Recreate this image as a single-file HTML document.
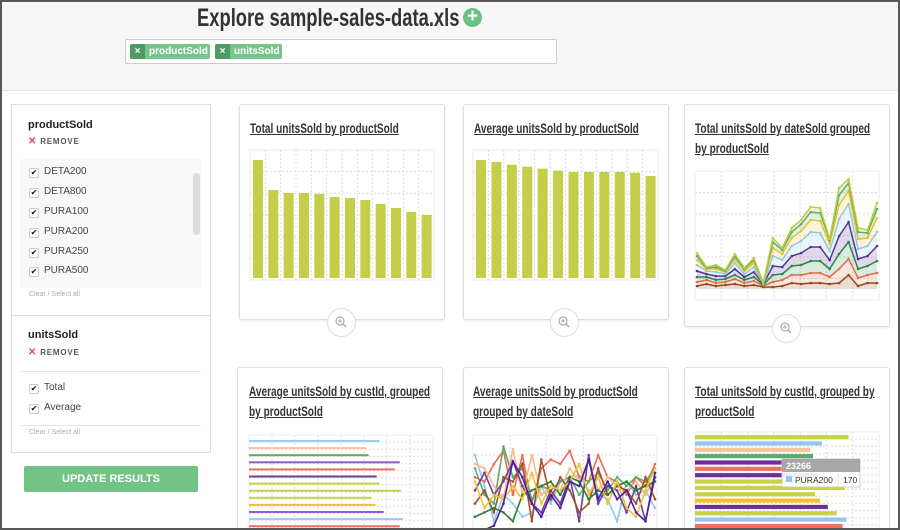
<!DOCTYPE html>
<html style="overflow:hidden;width:900px;height:530px"><head><meta charset="utf-8">
<style>
*{box-sizing:border-box;margin:0;padding:0}
html,body{overflow:hidden}
body{width:900px;height:530px;overflow:hidden;position:relative;background:#fff;font-family:"Liberation Sans",sans-serif;color:#333}
.abs{position:absolute}
#frame{left:0;top:0;width:900px;height:530px;border:2px solid #585858;pointer-events:none;z-index:50}
#header{left:0;top:0;width:900px;height:91px;background:#f7f7f7;border-bottom:1px solid #e3e3e3}
.cond{display:inline-block;transform-origin:left top;white-space:nowrap;font-weight:bold}
.tag{height:15px;border-radius:2px;background:#76c58b;color:#fff;font-size:10px;font-weight:bold;line-height:15px;overflow:hidden}
.tag .x{display:inline-block;width:15px;height:15px;background:#4f9a63;text-align:center;margin-right:4px}
.panel{border:1px solid #ddd;background:#fff}
.item{font-size:10px;color:#444;height:14px;line-height:14px}
.cb{display:inline-block;width:10px;height:10px;border:1px solid #ccc;border-radius:2px;margin-right:5px;vertical-align:-1px;font-size:8px;line-height:8px;text-align:center;color:#111;background:#fff}
.rm{font-size:8px;font-weight:bold;color:#555;letter-spacing:.8px}
.rm b{color:#d9534f;font-size:10px;margin-right:3px}
.card{border:1px solid #ddd;border-radius:3px;background:#fff;box-shadow:0 1px 2px rgba(0,0,0,.08)}
.ttl{font-size:14px;color:#333;text-decoration:underline;line-height:20px;transform:scaleX(.72)}
.zoom{width:29px;height:29px;border-radius:50%;border:1px solid #ddd;background:#fff}
svg text{font-family:"Liberation Sans",sans-serif}
</style></head><body>
<div id="frame" class="abs"></div>
<div id="header" class="abs"></div>
<div class="abs" style="left:197px;top:3px;height:30px"><span class="cond" style="font-size:25px;color:#333;transform:scaleX(.735);line-height:30px">Explore sample-sales-data.xls</span></div>
<div class="abs" style="left:463px;top:8px;width:19px;height:19px;border-radius:50%;background:#6cc084;color:#fff;font-weight:bold;font-size:19px;line-height:18px;text-align:center">+</div>
<div class="abs" style="left:125px;top:39px;width:432px;height:25px;background:#fff;border:1px solid #ccc;border-radius:2px"></div>
<div class="abs tag" style="left:130px;top:44px;width:80px"><span class="x">×</span>productSold</div>
<div class="abs tag" style="left:215px;top:44px;width:67px"><span class="x">×</span>unitsSold</div>

<!-- sidebar -->
<div class="abs panel" style="left:11px;top:104px;width:200px;height:349px"></div>
<div class="abs" style="left:28px;top:119px;font-size:11px;font-weight:bold;color:#222">productSold</div>
<div class="abs rm" style="left:28px;top:136px"><b>✕</b>REMOVE</div>
<div class="abs" style="left:20px;top:159px;width:181px;height:129px;background:#f8f8f8;overflow:hidden">
 <div class="abs" style="left:173px;top:14px;width:7px;height:62px;background:#ddd;border-radius:3px"></div>
</div>
<div class="abs item" style="left:29px;top:165px"><span class="cb">✔</span>DETA200</div>
<div class="abs item" style="left:29px;top:185px"><span class="cb">✔</span>DETA800</div>
<div class="abs item" style="left:29px;top:205px"><span class="cb">✔</span>PURA100</div>
<div class="abs item" style="left:29px;top:225px"><span class="cb">✔</span>PURA200</div>
<div class="abs item" style="left:29px;top:245px"><span class="cb">✔</span>PURA250</div>
<div class="abs item" style="left:29px;top:264px"><span class="cb">✔</span>PURA500</div>
<div class="abs" style="left:29px;top:291px;font-size:7px;color:#aaa">Clear / Select all</div>
<div class="abs" style="left:12px;top:315px;width:198px;height:1px;background:#ddd"></div>
<div class="abs" style="left:28px;top:329px;font-size:11px;font-weight:bold;color:#222">unitsSold</div>
<div class="abs rm" style="left:28px;top:347px"><b>✕</b>REMOVE</div>
<div class="abs" style="left:20px;top:371px;width:181px;height:1px;background:#e5e5e5"></div>
<div class="abs item" style="left:29px;top:381px"><span class="cb">✔</span>Total</div>
<div class="abs item" style="left:29px;top:401px"><span class="cb">✔</span>Average</div>
<div class="abs" style="left:20px;top:425px;width:181px;height:1px;background:#e5e5e5"></div>
<div class="abs" style="left:29px;top:429px;font-size:7px;color:#aaa">Clear / Select all</div>
<div class="abs" style="left:24px;top:466px;width:174px;height:26px;background:#72c386;border-radius:2px;color:#fff;font-size:11px;font-weight:bold;text-align:center;line-height:26px">UPDATE RESULTS</div>

<!-- cards -->
<div class="abs card" style="left:239px;top:104px;width:206px;height:216px"></div>
<div class="abs card" style="left:463px;top:104px;width:206px;height:216px"></div>
<div class="abs card" style="left:684px;top:104px;width:206px;height:223px"></div>
<div class="abs card" style="left:237px;top:367px;width:206px;height:163px;border-bottom:none"></div>
<div class="abs card" style="left:463px;top:367px;width:206px;height:163px;border-bottom:none"></div>
<div class="abs card" style="left:684px;top:367px;width:206px;height:163px;border-bottom:none"></div>

<div class="abs" style="left:250px;top:118px"><span class="cond ttl">Total unitsSold by productSold</span></div>
<div class="abs" style="left:474px;top:118px"><span class="cond ttl">Average unitsSold by productSold</span></div>
<div class="abs" style="left:695px;top:118px"><span class="cond ttl">Total unitsSold by dateSold grouped<br>by productSold</span></div>
<div class="abs" style="left:249px;top:381px"><span class="cond ttl">Average unitsSold by custId, grouped<br>by productSold</span></div>
<div class="abs" style="left:473px;top:381px"><span class="cond ttl">Average unitsSold by productSold<br>grouped by dateSold</span></div>
<div class="abs" style="left:695px;top:381px"><span class="cond ttl">Total unitsSold by custId, grouped by<br>productSold</span></div>

<div class="abs zoom" style="left:327px;top:308px"></div>
<div class="abs zoom" style="left:550px;top:308px"></div>
<div class="abs zoom" style="left:772px;top:314px"></div>

<svg id="svg" class="abs" style="left:0;top:0;z-index:10" width="900" height="530" xmlns="http://www.w3.org/2000/svg"></svg>

<script>
// chart1: total unitsSold by productSold
const products = ["DETA200","DETA800","PURA100","PURA200","PURA250","PURA500","PURA600","PURA700","PURA800","PURA900","PURA1000","PURA1200"];
const totalUnits = [23600,17600,17000,17000,16800,16200,16000,15600,14800,14000,13200,12600];
const avgUnits = [177,174,170,167,164,161,159,159,159,159,158,153];
// chart3: stacked series by date
const dates = ["d1","d2","d3","d4","d5","d6","d7","d8","d9","d10","d11","d12","d13","d14","d15","d16","d17","d18","d19","d20"];
const stackS1 = [3,5,3,4,5,3,4,2,2,3,6,5,6,6,5,6,14,3,6,6];
const stackS2 = [4,4,3,3,5,3,4,1,5,6,8,9,10,10,7,14,16,8,8,10];
const stackS3 = [5,3,3,3,4,3,4,1,7,6,9,10,12,12,8,15,17,9,9,12];
const stackS4 = [6,3,4,3,6,3,5,1,9,7,10,12,14,14,9,18,20,10,10,15];
const stackS5 = [6,3,4,2,6,3,5,0,10,7,10,12,15,14,9,17,18,10,10,14];
const stackS6 = [5,2,3,2,4,3,4,1,8,6,8,10,12,12,7,14,13,10,8,14];
const stackS7 = [4,1,2,1,3,2,3,0,6,4,6,7,8,8,4,10,8,7,5,9];
const stackS8 = [3,1,2,1,2,1,2,0,4,2,4,4,5,5,1,7,4,4,3,6];
// chart4: average by custId
const avgCust = [130,117,119,150,145,127,130,151,122,126,134,153,150];
// chart5: average by product over dates
const lineS1 = [85,50,10,40,30,15,20,50,30,55,60,62,45,40,35,10,55,40,45,25];
const lineS2 = [60,55,75,90,40,85,30,70,80,75,90,60,55,85,60,55,40,60,50,75];
const lineS3 = [70,40,30,95,60,70,35,50,45,55,60,40,55,65,45,60,50,60,55,70];
const lineS4 = [75,70,50,35,92,40,85,40,50,45,70,55,80,45,60,50,45,55,40,60];
const lineS5 = [45,65,40,55,78,50,30,20,45,30,60,10,85,30,50,45,20,50,10,60];
const lineS6 = [30,45,20,60,55,75,10,80,35,60,45,20,30,70,40,50,45,30,60,35];
const lineS7 = [15,20,25,20,10,40,45,50,55,40,60,55,35,45,40,50,55,45,50,55];
const lineS8 = [55,25,40,35,50,35,65,30,50,45,55,75,40,60,30,55,25,15,45,70];
const lineS9 = [0,0,5,30,78,60,30,15,40,25,55,50,80,35,55,35,45,20,10,65];
// chart6: total by custId
const totalCust = [156,129,117,120,150,145,125,125,152,122,127,135,144,154,150];
const tooltipTotal = "23266";
const tooltipLabel = "PURA200";
const tooltipValue = "170";

const NS="http://www.w3.org/2000/svg";
const svg=document.getElementById('svg');
function mk(tag,attrs,parent){const e=document.createElementNS(NS,tag);for(const k in attrs)e.setAttribute(k,attrs[k]);(parent||svg).appendChild(e);return e;}
function grid(x0,y0,w,h,nx,ny){
  mk('rect',{x:x0,y:y0,width:w,height:h,fill:'#fff',stroke:'#eee'});
  for(let i=1;i<nx;i++){const l=mk('line',{x1:x0+w*i/nx,x2:x0+w*i/nx,y1:y0,y2:y0+h,stroke:'#ddd','stroke-dasharray':'2,2'});}
  for(let j=1;j<ny;j++){const l=mk('line',{x1:x0,x2:x0+w,y1:y0+h*j/ny,y2:y0+h*j/ny,stroke:'#ddd','stroke-dasharray':'2,2'});}
}
const palette=['#8b4513','#ee6a50','#2e8b47','#4b2a8a','#8fc8ee','#f2c230','#5aab6e','#b7cf3e'];

function vbars(vals,ymax,x0,y0,w,h,name){
  grid(x0,y0,w,h+2,12,6);
  const step=w/vals.length, bw=step*0.65;
  const ys=v=>y0+h-v/ymax*h;
  vals.forEach((v,i)=>{
    const r=mk('rect',{x:x0+3+i*step,y:ys(v),width:bw,height:y0+h-ys(v),fill:'#c3cf4a'});
    
    
  });
}
vbars(totalUnits,25600,250,150,184,128,'chart1');
vbars(avgUnits,192,473,150,185,128,'chart2');

(function(){
  const x0=695,y0=171,w=184,h=129,base=289,ymax=118;
  grid(x0,y0,w,h,7,6);
  const series=[stackS1,stackS2,stackS3,stackS4,stackS5,stackS6,stackS7,stackS8];
  const xs=i=>x0+2+i*(w-4)/(dates.length-1);
  const ys=v=>base-v/ymax*(base-y0);
  let cum=dates.map(()=>0);
  const layers=[];
  series.forEach(s=>{const prev=cum.slice();cum=cum.map((c,i)=>c+s[i]);layers.push([prev,cum.slice()]);});
  layers.forEach((L,k)=>{
    const [lo,hi]=L;
    let d='M'+hi.map((v,i)=>xs(i)+','+ys(v)).join(' L')+' L'+lo.map((v,i)=>xs(i)+','+ys(v)).reverse().join(' L')+'Z';
    const a=mk('path',{d:d,fill:palette[k],'fill-opacity':0.18});
    
    
    const p=mk('polyline',{points:hi.map((v,i)=>xs(i)+','+ys(v)).join(' '),fill:'none',stroke:palette[k],'stroke-width':1.5});
    
    
    hi.forEach((v,i)=>{const c=mk('circle',{cx:xs(i),cy:ys(v),r:1.3,fill:palette[k]});});
  });
})();

(function(){
  const x0=249,y0=435,w=184,h=100,xmax=183;
  grid(x0,y0,w,h,8,14);
  const cols=['#9ccbee','#f9c39c','#5aab6e','#8e5cc4','#ec7063','#6b3fa0','#c5d24a','#c5d24a','#c5d24a','#f2c230','#8e5cc4','#9ccbee','#ec7063'];
  avgCust.forEach((v,i)=>{
    const r=mk('rect',{x:x0,y:y0+5+i*7.1,width:v/xmax*w,height:2,fill:cols[i]});
    
    
  });
})();

(function(){
  const x0=473,y0=435,w=184,h=100;
  grid(x0,y0,w,h,5,5);
  const series=[lineS1,lineS2,lineS3,lineS4,lineS5,lineS6,lineS7,lineS8,lineS9];
  const cols=['#8fc8ee','#ee6a50','#5aab6e','#f9b98c','#6b3fa0','#a0522d','#2e7d32','#f2c230','#4b1fa0'];
  const xs=i=>x0+2+i*(w-4)/(dates.length-1);
  const ys=v=>530-v/100*88;
  series.forEach((s,k)=>{
    const p=mk('polyline',{points:s.map((v,i)=>xs(i)+','+ys(v)).join(' '),fill:'none',stroke:cols[k],'stroke-width':1.6});
    
    
    s.forEach((v,i)=>{const c=mk('circle',{cx:xs(i),cy:ys(v),r:1.3,fill:cols[k]});});
  });
})();

(function(){
  const x0=695,y0=432,w=184,h=100,xmax=187;
  grid(x0,y0,w,h,7,14);
  const cols=['#c5d24a','#8fc8ee','#f9c39c','#5aab6e','#6b2fa0','#ee7060','#6b2fa0','#c5d24a','#c5d24a','#c5d24a','#f2c230','#6b2fa0','#c5d24a','#8fc8ee','#ee7060'];
  totalCust.forEach((v,i)=>{
    const r=mk('rect',{x:x0,y:y0+3+i*6.35,width:v/xmax*w,height:4.2,fill:cols[i]});
    
    
  });
  const g=mk('g',{});
  
  
  mk('rect',{x:782,y:459,width:78,height:28,fill:'#fff','fill-opacity':0.9,stroke:'#ccc'},g);
  mk('rect',{x:782,y:459,width:78,height:13,fill:'#999','fill-opacity':0.85},g);
  const t1=mk('text',{x:786,y:469,'font-size':9,fill:'#fff','font-weight':'bold'},g);t1.textContent=tooltipTotal;
  mk('rect',{x:786,y:476,width:6,height:6,fill:'#8fc8ee'},g);
  const t2=mk('text',{x:795,y:483,'font-size':8.5,fill:'#333'},g);t2.textContent=tooltipLabel;
  mk('line',{x1:838,x2:838,y1:473,y2:487,stroke:'#ddd'},g);
  const t3=mk('text',{x:843,y:483,'font-size':8.5,fill:'#333'},g);t3.textContent=tooltipValue;
})();

[[341,322],[564,322],[786,328]].forEach((c,i)=>{
  const g=mk('g',{});
  
  
  mk('circle',{cx:c[0]-1,cy:c[1]-1,r:4,fill:'none',stroke:'#aaa','stroke-width':1.2},g);
  mk('line',{x1:c[0]+2,y1:c[1]+2,x2:c[0]+5,y2:c[1]+5,stroke:'#aaa','stroke-width':1.5},g);
  mk('line',{x1:c[0]-3,y1:c[1]-1,x2:c[0]+1,y2:c[1]-1,stroke:'#aaa'},g);
  mk('line',{x1:c[0]-1,y1:c[1]-3,x2:c[0]-1,y2:c[1]+1,stroke:'#aaa'},g);
});
</script>
</body></html>
